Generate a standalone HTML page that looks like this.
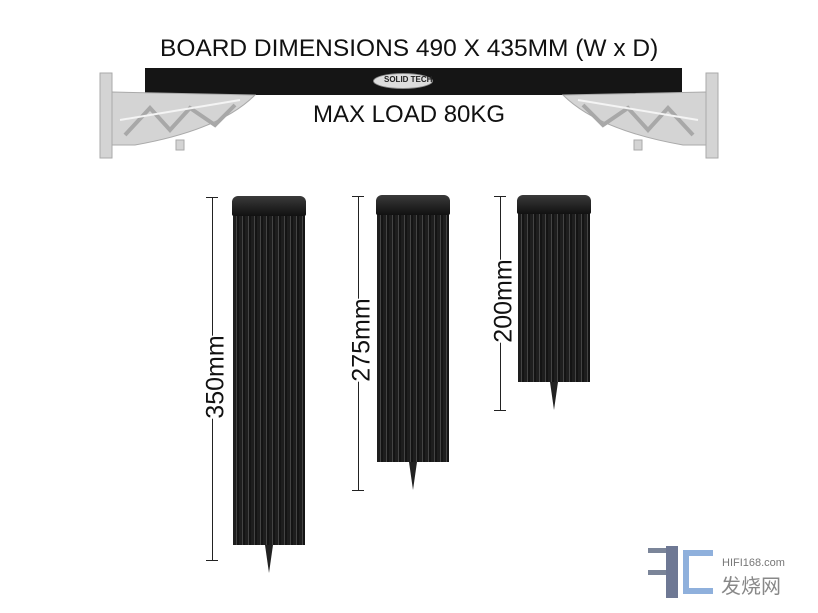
<!DOCTYPE html><html><head><style>
body{margin:0;width:818px;height:613px;background:#fff;position:relative;overflow:hidden;font-family:"Liberation Sans",sans-serif}
.t{position:absolute;color:#111;white-space:nowrap}
.col{position:absolute;background:repeating-linear-gradient(90deg,#1e1e1e 0 3px,#444 3px 4px,#141414 4px 6px)}
.cap{position:absolute;background:linear-gradient(#3a3a3a,#111);border-radius:6px 6px 2px 2px}
.line{position:absolute;width:1px;background:#222}
.tick{position:absolute;height:1px;width:12px;background:#222}
.rot{position:absolute;transform:rotate(-90deg);transform-origin:center;font-size:25px;color:#111;white-space:nowrap;background:#fff;line-height:26px}
.spike{position:absolute;width:0;height:0;border-left:4px solid transparent;border-right:4px solid transparent;border-top:22px solid #222}
</style></head><body>
<div class="t" style="left:160px;top:35px;font-size:24.5px">BOARD DIMENSIONS 490 X 435MM (W x D)</div>
<div class="t" style="left:313px;top:101px;font-size:24px">MAX LOAD 80KG</div>
<!-- board -->
<div style="position:absolute;left:145px;top:68px;width:537px;height:27px;background:#151515"></div>
<div style="position:absolute;left:373px;top:73px;width:58px;height:14px;border-radius:50%;background:#ddd;border:1px solid #888"></div>
<div class="t" style="left:384px;top:75px;font-size:8px;font-weight:bold;color:#222">SOLID TECH</div>
<!-- brackets -->
<svg style="position:absolute;left:0;top:0" width="818" height="170">
<g fill="#d4d4d4" stroke="#aaa">
<rect x="100" y="73" width="12" height="85"/>
<path d="M112 92 L255 95 Q220 130 135 145 L112 145 Z"/>
<rect x="706" y="73" width="12" height="85"/>
<path d="M706 92 L563 95 Q598 130 683 145 L706 145 Z"/>
<rect x="176" y="140" width="8" height="10"/><rect x="634" y="140" width="8" height="10"/>
</g>
<g stroke="#a8a8a8" stroke-width="4" fill="none"><path d="M125 135 L150 108 L170 130 L190 108 L215 125 L235 105"/><path d="M693 135 L668 108 L648 130 L628 108 L603 125 L583 105"/></g>
<g stroke="#f4f4f4" stroke-width="2" fill="none"><path d="M120 120 L240 100"/><path d="M698 120 L578 100"/></g>
</svg>
<!-- col1 -->
<div class="col" style="left:233px;top:212px;width:72px;height:333px"></div>
<div class="cap" style="left:232px;top:196px;width:74px;height:20px"></div>
<div class="spike" style="left:265px;top:545px;border-top-width:28px"></div>
<div class="line" style="left:212px;top:197px;height:363px"></div>
<div class="tick" style="left:206px;top:197px"></div><div class="tick" style="left:206px;top:560px"></div>
<div class="rot" style="left:174px;top:364px">350mm</div>
<!-- col2 -->
<div class="col" style="left:377px;top:211px;width:72px;height:251px"></div>
<div class="cap" style="left:376px;top:195px;width:74px;height:20px"></div>
<div class="spike" style="left:409px;top:462px;border-top-width:28px"></div>
<div class="line" style="left:358px;top:196px;height:294px"></div>
<div class="tick" style="left:352px;top:196px"></div><div class="tick" style="left:352px;top:490px"></div>
<div class="rot" style="left:320px;top:327px">275mm</div>
<!-- col3 -->
<div class="col" style="left:518px;top:210px;width:72px;height:172px"></div>
<div class="cap" style="left:517px;top:195px;width:74px;height:19px"></div>
<div class="spike" style="left:550px;top:382px;border-top-width:28px"></div>
<div class="line" style="left:500px;top:196px;height:214px"></div>
<div class="tick" style="left:494px;top:196px"></div><div class="tick" style="left:494px;top:410px"></div>
<div class="rot" style="left:462px;top:288px">200mm</div>
<!-- watermark -->
<div style="position:absolute;left:648px;top:548px;width:22px;height:5px;background:#7b8599"></div>
<div style="position:absolute;left:648px;top:570px;width:22px;height:5px;background:#7b8599"></div>
<div style="position:absolute;left:666px;top:546px;width:12px;height:52px;background:#6e7894"></div>
<div style="position:absolute;left:683px;top:550px;width:30px;height:44px;border:6px solid #8fb0dc;border-right:none;box-sizing:border-box"></div>
<div class="t" style="left:722px;top:557px;font-size:11px;color:#777">HIFI168.com</div>
<div class="t" style="left:721px;top:570px;font-size:20px;color:#888;font-family:'Liberation Sans','Noto Sans CJK SC',sans-serif">发烧网</div>
</body></html>
